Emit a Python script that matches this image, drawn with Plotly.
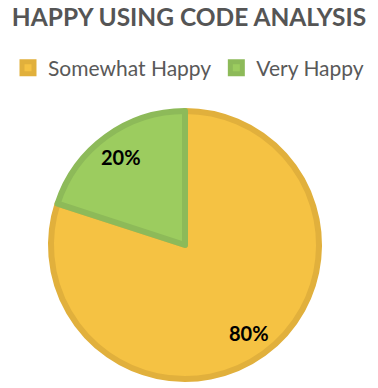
import math
import plotly.graph_objects as go

categories = ["Somewhat Happy", "Very Happy"]
values = [80, 20]
fill_colors = ["#F5C243", "#9CCC5F"]
border_colors = ["#E1B03C", "#8DBA59"]

W, H = 370, 380          # page body has an 8px margin
CX, CY, R = 177, 237, 134  # pie centre / radius in figure pixels

fig = go.Figure(go.Pie(
    labels=categories,
    values=values,
    sort=False,
    direction="clockwise",
    rotation=0,
    marker=dict(colors=fill_colors, line=dict(color=border_colors, width=6)),
    textinfo="none",
    domain=dict(x=[(CX - R) / W, (CX + R) / W], y=[(H - CY - R) / H, (H - CY + R) / H]),
    hoverinfo="label+percent",
))

# percentage labels placed along each slice's mid-angle
total = sum(values)
cum = 0
for v in values:
    mid = (cum + v / 2) / total * 2 * math.pi
    cum += v
    rr = 0.79 * (R + 3)
    fig.add_annotation(
        x=(CX + rr * math.sin(mid)) / W,
        y=(H - CY + rr * math.cos(mid)) / H,
        xref="paper", yref="paper", showarrow=False,
        xanchor="center", yanchor="middle",
        text=f"<b>{round(v / total * 100)}%</b>",
        font=dict(family="Lato", size=20, color="#000000"),
    )

fig.update_layout(
    width=W, height=H,
    margin=dict(l=0, r=0, t=0, b=0),
    paper_bgcolor="white",
    title=dict(text="<b>HAPPY USING CODE ANALYSIS</b>", x=181 / W, xanchor="center",
               xref="paper", yref="container", y=1 - 1 / H, yanchor="top", pad=dict(t=0, b=0),
               font=dict(family="Lato", size=24.5, color="#555555")),
    legend=dict(orientation="h", x=176 / W, xanchor="center", y=1 - 60 / H, yanchor="middle",
                font=dict(family="Lato", size=21, color="#595959")),
    showlegend=True,
)

fig.write_html("out.html")
